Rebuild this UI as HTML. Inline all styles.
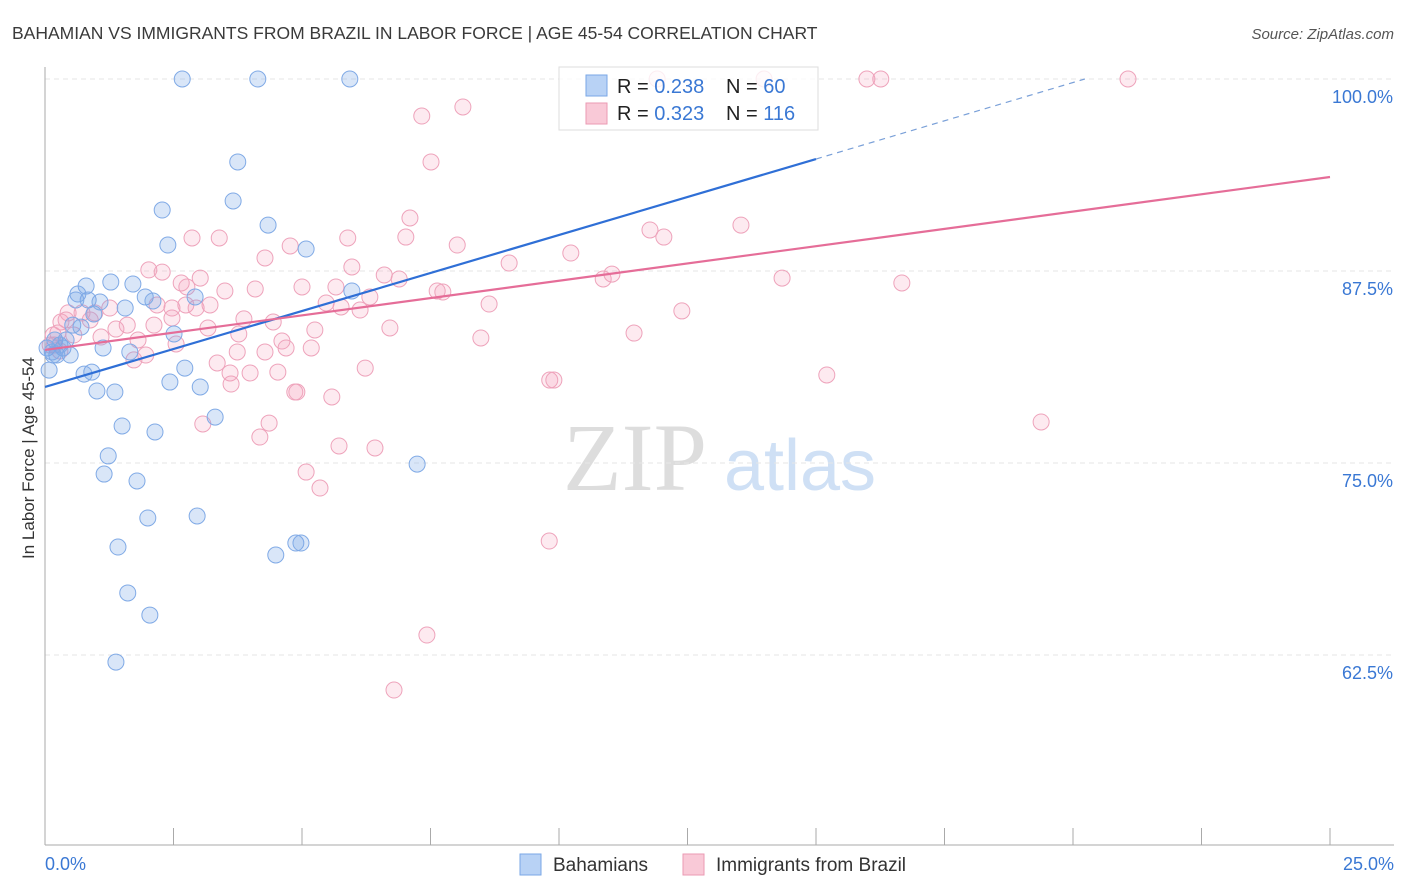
<!DOCTYPE html>
<html><head><meta charset="utf-8">
<style>
body{margin:0;background:#fff;font-family:"Liberation Sans",sans-serif;}
svg{display:block}
</style></head>
<body>
<svg id="chart" width="1406" height="892" xmlns="http://www.w3.org/2000/svg">
<text x="12" y="39" font-size="17.5" fill="#3a3a3a">BAHAMIAN VS IMMIGRANTS FROM BRAZIL IN LABOR FORCE | AGE 45-54 CORRELATION CHART</text>
<text x="1394" y="39" font-size="15" fill="#555" font-style="italic" text-anchor="end">Source: ZipAtlas.com</text>
<text x="34" y="458" font-size="17" fill="#333" text-anchor="middle" transform="rotate(-90 34 458)">In Labor Force | Age 45-54</text>
<g>
<text x="635" y="490" font-size="96" fill="#ddd" font-family="Liberation Serif,serif" text-anchor="middle">ZIP</text>
<text x="800" y="490" font-size="72" fill="#cfe0f5" text-anchor="middle">atlas</text>
</g>
<g id="grid"></g>
<g id="axes"></g>
<g id="pts"></g>
<g id="lines"></g>
<g>
<rect x="559" y="67" width="259" height="63" fill="rgba(255,255,255,0.8)" stroke="#ddd"/>
<rect x="586" y="75" width="21" height="21" fill="#b8d2f5" stroke="#7aa7e6"/>
<rect x="586" y="103" width="21" height="21" fill="#f9c9d7" stroke="#eb9ab3"/>
<text x="617" y="93" font-size="20" fill="#222">R = <tspan fill="#3a78d4">0.238</tspan></text>
<text x="726" y="93" font-size="20" fill="#222">N = <tspan fill="#3a78d4"> 60</tspan></text>
<text x="617" y="120" font-size="20" fill="#222">R = <tspan fill="#3a78d4">0.323</tspan></text>
<text x="726" y="120" font-size="20" fill="#222">N = <tspan fill="#3a78d4">116</tspan></text>
</g>
<g>
<rect x="520" y="854" width="21" height="21" fill="#b8d2f5" stroke="#7aa7e6"/>
<text x="553" y="871" font-size="19" fill="#333">Bahamians</text>
<rect x="683" y="854" width="21" height="21" fill="#f9c9d7" stroke="#eb9ab3"/>
<text x="716" y="871" font-size="19" fill="#333">Immigrants from Brazil</text>
</g>
</svg>
<script>
const yTicks=[100,87.5,75,62.5];
const yTickLabels=["100.0%","87.5%","75.0%","62.5%"];
const xTickLabels=["0.0%","25.0%"];
const blueX=[2.67,4.14,5.93,3.75,3.66,2.28,4.34,2.39,5.08,0.80,1.28,1.71,0.64,0.84,1.95,2.10,2.92,1.56,5.97,0.95,0.54,0.70,0.19,0.41,2.51,0.35,0.04,0.16,0.49,1.13,1.65,0.23,2.72,0.91,0.76,2.43,3.02,1.01,1.36,3.31,1.50,2.14,1.23,1.15,1.79,2.00,2.96,1.42,4.49,4.88,4.98,1.61,2.04,1.38,7.24,0.08,0.29,0.14,0.60,1.07];
const blueY=[100,100,100,94.60,92.06,91.47,90.49,89.19,88.93,86.52,86.78,86.65,86.00,85.61,85.81,85.55,85.81,85.09,86.20,84.70,83.98,83.85,83.01,83.01,83.40,82.49,82.49,82.03,82.03,82.49,82.23,82.03,81.18,80.92,80.79,80.27,79.95,79.69,79.62,77.99,77.41,77.02,75.46,74.28,73.83,71.42,71.55,69.53,69.01,69.79,69.79,66.54,65.10,62.04,74.93,81.05,82.68,82.23,85.61,85.48];
const pinkX=[11.91,13.99,15.99,16.26,21.07,8.13,7.33,7.51,7.10,13.54,11.77,12.04,2.86,3.39,5.89,4.77,8.02,7.02,10.23,4.28,2.02,2.28,5.97,9.03,6.60,6.89,10.86,11.03,14.34,16.67,3.02,2.65,2.76,5.00,5.66,3.50,4.09,6.32,7.63,7.74,2.18,2.74,3.21,2.47,2.94,5.47,5.76,6.13,8.64,12.39,0.45,0.72,0.97,1.26,0.41,0.31,0.88,1.60,2.12,1.38,3.17,3.87,4.44,5.25,6.71,11.46,0.16,0.56,1.09,1.81,2.55,3.77,4.61,5.18,4.69,8.48,0.18,0.29,1.96,1.73,3.35,3.74,4.28,3.60,3.99,4.53,6.23,3.62,4.86,4.90,5.58,9.82,9.90,15.21,3.07,4.36,4.18,5.72,6.42,5.08,5.35,19.38,9.81,7.43,6.79,0.10,0.25,2.47];
const pinkY=[100,100,100,100,100,98.18,97.59,94.60,90.95,90.49,90.17,89.71,89.65,89.65,89.65,89.13,89.19,89.71,88.67,88.35,87.57,87.43,87.76,88.02,87.24,86.98,86.98,87.30,87.04,86.72,87.04,86.72,86.46,86.46,86.46,86.20,86.33,85.81,86.20,86.13,85.29,85.29,85.29,85.09,85.09,85.42,85.16,84.96,85.35,84.90,84.77,84.77,84.77,85.09,84.31,84.18,84.31,83.98,83.98,83.72,83.79,84.38,84.18,83.66,83.79,83.46,83.33,83.33,83.20,83.01,82.75,83.40,82.94,82.49,82.49,83.14,82.68,82.29,82.03,81.71,81.51,82.23,82.23,80.86,80.86,80.92,81.18,80.14,79.62,79.62,79.30,80.40,80.40,80.73,77.54,77.60,76.69,76.11,75.98,74.41,73.37,77.67,69.92,63.80,60.22,82.68,83.46,84.44];
const blueTrendX=[0,15,20.23];
const blueTrendY=[79.95,94.79,100];
const pinkTrendX=[0,25];
const pinkTrendY=[82.36,93.62];

const NS="http://www.w3.org/2000/svg";
const X0=45,X1=1330,Y100=79,PXPER=15.36;
function sx(v){return X0+(X1-X0)*v/25;}
function sy(v){return Y100+(100-v)*PXPER;}
function mk(tag,attrs,parent){const e=document.createElementNS(NS,tag);for(const k in attrs)e.setAttribute(k,attrs[k]);parent.appendChild(e);return e;}

const grid=document.getElementById('grid');
yTicks.forEach((t,i)=>{
  const l=mk('line',{x1:X0,x2:1394,y1:sy(t),y2:sy(t),stroke:'#e6e6e6','stroke-dasharray':'5,4'},grid);
  
  
  const tx=mk('text',{x:1393,y:sy(t)+24,'font-size':18,fill:'#3a78d4','text-anchor':'end'},grid);
  tx.textContent=yTickLabels[i];
  
  
});
const axes=document.getElementById('axes');
const ya=mk('line',{x1:X0,x2:X0,y1:67,y2:845,stroke:'#aaa'},axes);


const xa=mk('line',{x1:X0,x2:1394,y1:845,y2:845,stroke:'#aaa'},axes);


for(let i=0;i<=10;i++){
  const tk=mk('line',{x1:sx(i*2.5),x2:sx(i*2.5),y1:828,y2:845,stroke:'#aaa'},axes);
  
  
}
[[0,'start',X0],[25,'end',1394]].forEach((d,i)=>{
  const t=mk('text',{x:d[2],y:870,'font-size':18,fill:'#3a78d4','text-anchor':d[1]},axes);
  t.textContent=xTickLabels[i];
  
  
});
const pts=document.getElementById('pts');
pinkX.forEach((x,i)=>{
  const c=mk('circle',{cx:sx(x),cy:sy(pinkY[i]),r:8,fill:'rgba(244,160,188,0.22)',stroke:'#eea3bb','stroke-width':1},pts);
  
  
});
blueX.forEach((x,i)=>{
  const c=mk('circle',{cx:sx(x),cy:sy(blueY[i]),r:8,fill:'rgba(120,165,230,0.28)',stroke:'#80aae6','stroke-width':1},pts);
  
  
});
const lines=document.getElementById('lines');
const bl=mk('line',{x1:sx(blueTrendX[0]),y1:sy(blueTrendY[0]),x2:sx(blueTrendX[1]),y2:sy(blueTrendY[1]),stroke:'#2f6fd6','stroke-width':2.2},lines);


const bd=mk('line',{x1:sx(blueTrendX[1]),y1:sy(blueTrendY[1]),x2:sx(blueTrendX[2]),y2:sy(blueTrendY[2]),stroke:'#7aa0d8','stroke-width':1.2,'stroke-dasharray':'6,5'},lines);


const pl=mk('line',{x1:sx(pinkTrendX[0]),y1:sy(pinkTrendY[0]),x2:sx(pinkTrendX[1]),y2:sy(pinkTrendY[1]),stroke:'#e56d98','stroke-width':2.2},lines);


</script>
</body></html>
